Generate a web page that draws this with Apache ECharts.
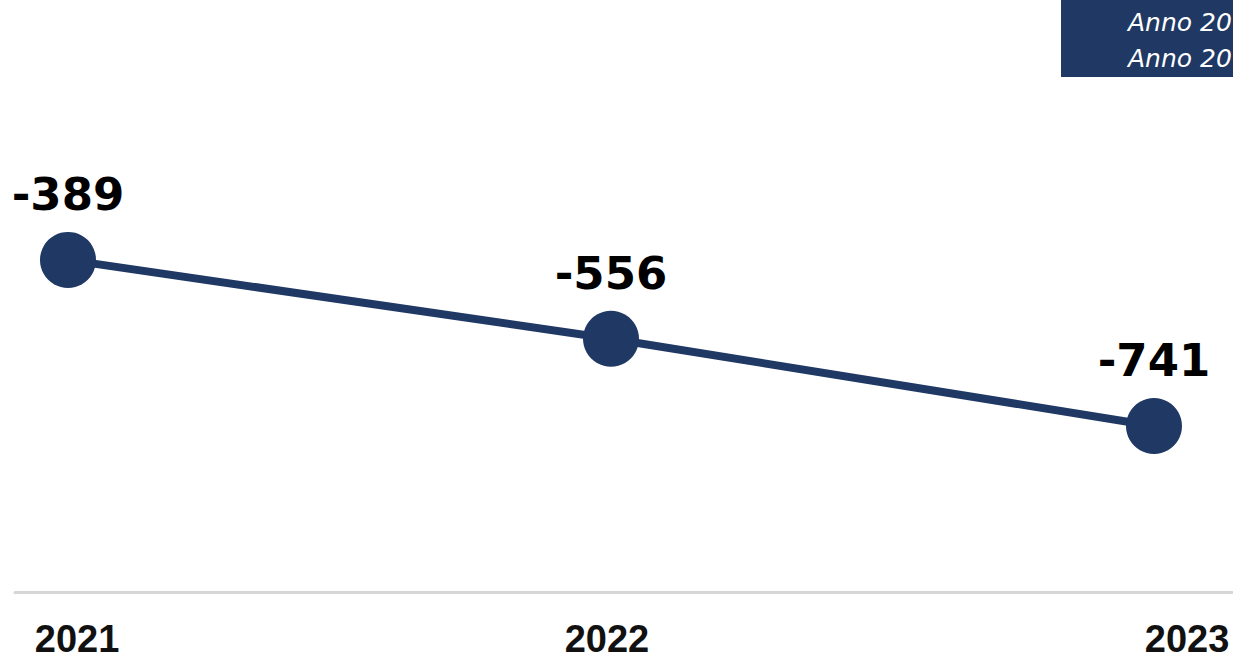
<!DOCTYPE html>
<html>
<head>
<meta charset="utf-8">
<script src="https://cdn.jsdelivr.net/npm/echarts@6/dist/echarts.min.js"></script>
<style>
html,body{margin:0;padding:0;background:#fff;}
#chart{width:1233px;height:659px;}
</style>
</head>
<body>
<div id="chart"></div>
<script>
// ---- data ----
var years = ['2021', '2022', '2023'];
var values = [-389, -556, -741];
var legendLines = ['Anno 20', 'Anno 20'];

var navy = '#1f3864';
var chart = echarts.init(document.getElementById('chart'), null, {renderer: 'svg'});

var seriesData = years.map(function (y, i) { return [Number(y), values[i]]; });
var labelOffsets = [0.0166, -0.0074, 0.0608];

chart.setOption({
  backgroundColor: '#ffffff',
  animation: false,
  title: {
    text: legendLines.join('\n'),
    left: 1061,
    top: 0,
    padding: [4, 20, 1, 67],
    backgroundColor: navy,
    textStyle: {
      color: '#ffffff',
      fontFamily: 'DejaVu Sans',
      fontStyle: 'italic',
      fontWeight: 'normal',
      fontSize: 25,
      lineHeight: 36
    }
  },
  grid: { left: 15, right: 0, top: 0, bottom: 67, containLabel: false },
  xAxis: {
    type: 'value',
    min: 2020.9024,
    max: 2023.1455,
    splitLine: { show: false },
    axisTick: { show: false },
    axisLine: { show: true, onZero: false, lineStyle: { color: '#d6d6d6', width: 3 } },
    axisLabel: {
      customValues: years.map(function (y, i) { return Number(y) + labelOffsets[i]; }),
      formatter: function (v) { return String(Math.round(v)); },
      margin: 30,
      color: '#111111',
      fontFamily: 'Liberation Sans',
      fontWeight: 'bold',
      fontSize: 38,
      lineHeight: 34
    }
  },
  yAxis: {
    type: 'value',
    min: -1093,
    max: 162,
    show: false,
    splitLine: { show: false }
  },
  series: [{
    type: 'line',
    data: seriesData,
    symbol: 'circle',
    symbolSize: 56,
    lineStyle: { color: navy, width: 8 },
    itemStyle: { color: navy },
    label: {
      show: true,
      position: 'top',
      distance: 15,
      color: '#000000',
      fontFamily: 'DejaVu Sans',
      fontWeight: 'bold',
      fontSize: 45
    }
  }]
});
</script>
</body>
</html>
